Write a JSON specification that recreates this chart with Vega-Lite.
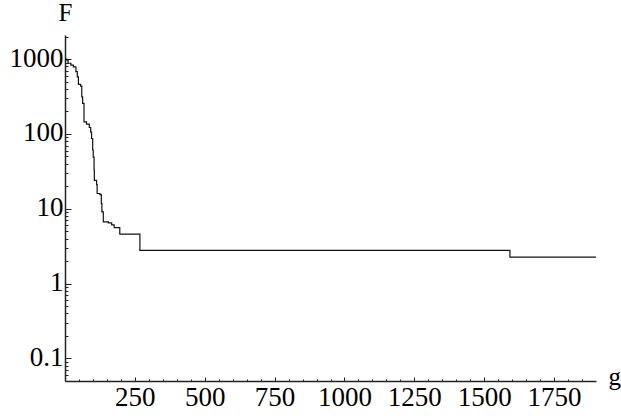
{
  "$schema": "https://vega.github.io/schema/vega-lite/v6.json",
  "width": 531,
  "height": 346,
  "autosize": {"type": "none"},
  "padding": {"left": 65, "top": 35, "right": 25, "bottom": 37},
  "background": "white",
  "config": {
    "view": {"stroke": null},
    "font": "Liberation Serif",
    "axis": {
      "grid": false,
      "domainColor": "#222",
      "domainWidth": 1.5,
      "tickColor": "#222",
      "tickWidth": 1,
      "labelColor": "#000",
      "labelFont": "Liberation Serif",
      "labelFontSize": 27,
      "titleFont": "Liberation Serif",
      "titleFontSize": 25,
      "titleFontWeight": "normal",
      "titleColor": "#000"
    }
  },
  "data": {
    "values": [
      {"g": 0, "F": 1000},
      {"g": 6, "F": 970},
      {"g": 11, "F": 880},
      {"g": 21, "F": 830},
      {"g": 30, "F": 790},
      {"g": 39, "F": 680},
      {"g": 44, "F": 580},
      {"g": 48, "F": 460},
      {"g": 56, "F": 436},
      {"g": 60, "F": 313},
      {"g": 63, "F": 256},
      {"g": 68, "F": 145},
      {"g": 77, "F": 135},
      {"g": 87, "F": 122},
      {"g": 92, "F": 106},
      {"g": 95, "F": 87},
      {"g": 99, "F": 61},
      {"g": 101, "F": 49},
      {"g": 104, "F": 33},
      {"g": 105, "F": 24},
      {"g": 113, "F": 21},
      {"g": 115, "F": 16},
      {"g": 125, "F": 15.5},
      {"g": 130, "F": 11.7},
      {"g": 132, "F": 9.1},
      {"g": 137, "F": 6.7},
      {"g": 155, "F": 6.5},
      {"g": 167, "F": 6.1},
      {"g": 176, "F": 5.6},
      {"g": 196, "F": 4.6},
      {"g": 268, "F": 2.79},
      {"g": 1592, "F": 2.26},
      {"g": 1900, "F": 2.26}
    ]
  },
  "resolve": {"axis": {"x": "independent", "y": "independent"}},
  "layer": [
    {
      "mark": {"type": "line", "interpolate": "step-after", "color": "#111", "strokeWidth": 1.2},
      "encoding": {
        "x": {
          "field": "g", "type": "quantitative",
          "scale": {"domain": [0, 1900], "nice": false, "zero": false},
          "axis": {
            "orient": "bottom",
            "title": "g",
            "values": [250, 500, 750, 1000, 1250, 1500, 1750],
            "format": "d",
            "tickSize": -4,
            "labelPadding": 7,
            "labelFlush": false,
            "titleAngle": 0,
            "titleX": 543,
            "titleY": 3,
            "titleAlign": "left",
            "titleBaseline": "alphabetic"
          }
        },
        "y": {
          "field": "F", "type": "quantitative",
          "scale": {"type": "log", "domain": [0.05, 2100], "nice": false},
          "axis": {
            "orient": "left",
            "title": "F",
            "values": [0.1, 1, 10, 100, 1000],
            "format": "~g",
            "tickSize": -6,
            "labelPadding": 8,
            "labelFlush": false,
            "labelOffset": -1,
            "titleAngle": 0,
            "titleX": 0,
            "titleY": -15,
            "titleAlign": "center",
            "titleBaseline": "alphabetic"
          }
        }
      }
    },
    {
      "mark": {"type": "line", "interpolate": "step-after", "strokeOpacity": 0},
      "encoding": {
        "x": {
          "field": "g", "type": "quantitative",
          "axis": {
            "orient": "bottom",
            "title": null,
            "labels": false,
            "domain": false,
            "tickSize": -2,
            "values": [50, 100, 150, 200, 300, 350, 400, 450, 550, 600, 650, 700, 800, 850, 900, 950, 1050, 1100, 1150, 1200, 1300, 1350, 1400, 1450, 1550, 1600, 1650, 1700, 1800, 1850]
          }
        },
        "y": {
          "field": "F", "type": "quantitative",
          "axis": {
            "orient": "left",
            "title": null,
            "labels": false,
            "domain": false,
            "tickSize": -3,
            "values": [0.06, 0.07, 0.08, 0.09, 0.2, 0.3, 0.4, 0.5, 0.6, 0.7, 0.8, 0.9, 2, 3, 4, 5, 6, 7, 8, 9, 20, 30, 40, 50, 60, 70, 80, 90, 200, 300, 400, 500, 600, 700, 800, 900, 2000]
          }
        }
      }
    }
  ]
}
